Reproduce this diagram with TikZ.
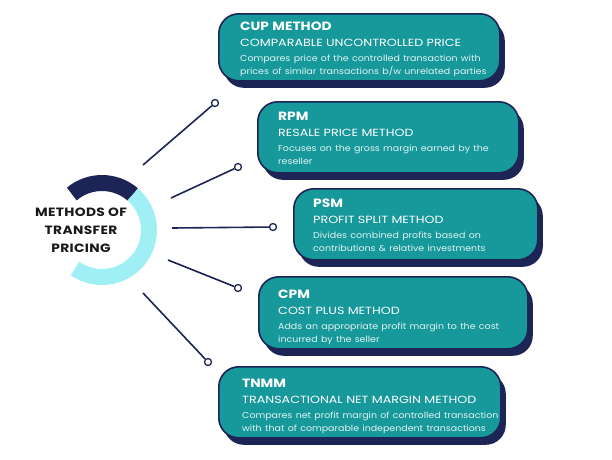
\documentclass[tikz,border=0pt]{standalone}
\usepackage{fontspec}
\setmainfont{Poppins}
\newfontfamily\titlefont[FakeStretch=1.15]{Poppins}
\newfontfamily\centerfont[FakeStretch=1.15,LetterSpace=3]{Poppins}
\newfontfamily\subfont[FakeStretch=1.22]{Poppins}
\newfontfamily\descfont[FakeStretch=1.1]{Poppins}
\usetikzlibrary{shadows}
\definecolor{navy}{HTML}{1D2456}
\definecolor{tealbox}{HTML}{17989A}
\definecolor{ringcyan}{HTML}{9FEFF5}
\definecolor{desctext}{HTML}{E2F4F4}
\newcommand{\mtitle}[1]{\titlefont\fontsize{12}{15}\selectfont\bfseries #1\par}
\newcommand{\msub}[1]{\subfont\fontsize{10.4}{15.5}\selectfont\mdseries #1\par}
\newcommand{\mdescA}[1]{\descfont\fontsize{8.6}{15.5}\selectfont\mdseries\color{desctext}#1\par}
\newcommand{\mdescB}[1]{\descfont\fontsize{8.6}{13}\selectfont\mdseries\color{desctext}#1\par}
\begin{document}
\begin{tikzpicture}[x=1pt,y=-1pt,
  mbox/.style={draw=navy, line width=1.6pt, fill=tealbox, rounded corners=20pt,
    anchor=north west, inner sep=0pt,
    general shadow={fill=navy, shadow xshift=5pt, shadow yshift=-7pt}},
  mtext/.style={anchor=north west, inner sep=0pt, text width=300pt, align=left, text=white},
  conn/.style={draw=navy, line width=1.6pt},
  enddot/.style={circle, draw=navy, line width=1.3pt, fill=white, inner sep=0pt, minimum size=7pt}]
\useasboundingbox (0,0) rectangle (612,459);

% ring
\draw[navy, line width=16pt] (102,230) ++(-130:47) arc[start angle=-130, end angle=-49, radius=47];
\draw[ringcyan, line width=16pt] (102,230) ++(-49:47) arc[start angle=-49, end angle=125, radius=47];
\node[align=center, font=\centerfont\fontsize{12}{18}\selectfont\bfseries, text=black!90] (center) at (81,230)
  {METHODS OF\\TRANSFER\\PRICING};

% boxes
\node[mbox, minimum width=281pt, minimum height=67pt] (cupbox) at (218,13) {};
\node[mbox, minimum width=261pt, minimum height=71pt] (rpmbox) at (257,101) {};
\node[mbox, minimum width=244pt, minimum height=71pt] (psmbox) at (293,188) {};
\node[mbox, minimum width=269pt, minimum height=72pt] (cpmbox) at (258,276) {};
\node[mbox, minimum width=282pt, minimum height=71pt] (tnmmbox) at (218,366) {};

\node[mtext] (cuptext) at (240,22) {\mtitle{CUP METHOD}\msub{COMPARABLE UNCONTROLLED PRICE}%
  \mdescA{Compares price of the controlled transaction with}\mdescB{prices of similar transactions b/w unrelated parties}};
\node[mtext] (rpmtext) at (278,112) {\mtitle{RPM}\msub{RESALE PRICE METHOD}%
  \mdescA{Focuses on the gross margin earned by the}\mdescB{reseller}};
\node[mtext] (psmtext) at (313,199) {\mtitle{PSM}\msub{PROFIT SPLIT METHOD}%
  \mdescA{Divides combined profits based on}\mdescB{contributions \& relative investments}};
\node[mtext] (cpmtext) at (278,290) {\mtitle{CPM}\msub{COST PLUS METHOD}%
  \mdescA{Adds an appropriate profit margin to the cost}\mdescB{incurred by the seller}};
\node[mtext] (tnmmtext) at (242,379) {\mtitle{TNMM}\msub{TRANSACTIONAL NET MARGIN METHOD}%
  \mdescA{Compares net profit margin of controlled transaction}\mdescB{with that of comparable independent transactions}};

% connectors
\coordinate (s1) at (143,165);
\coordinate (s2) at (171,198);
\coordinate (s3) at (172,228);
\coordinate (s4) at (168,260);
\coordinate (s5) at (143,293);
\node[enddot] (d1) at (215,103) {};
\node[enddot] (d2) at (238,167) {};
\node[enddot] (d3) at (273,227) {};
\node[enddot] (d4) at (238,288) {};
\node[enddot] (d5) at (208,362) {};
\draw[conn] (s1) -- (d1);
\draw[conn] (s2) -- (d2);
\draw[conn] (s3) -- (d3);
\draw[conn] (s4) -- (d4);
\draw[conn] (s5) -- (d5);
\end{tikzpicture}
\end{document}
